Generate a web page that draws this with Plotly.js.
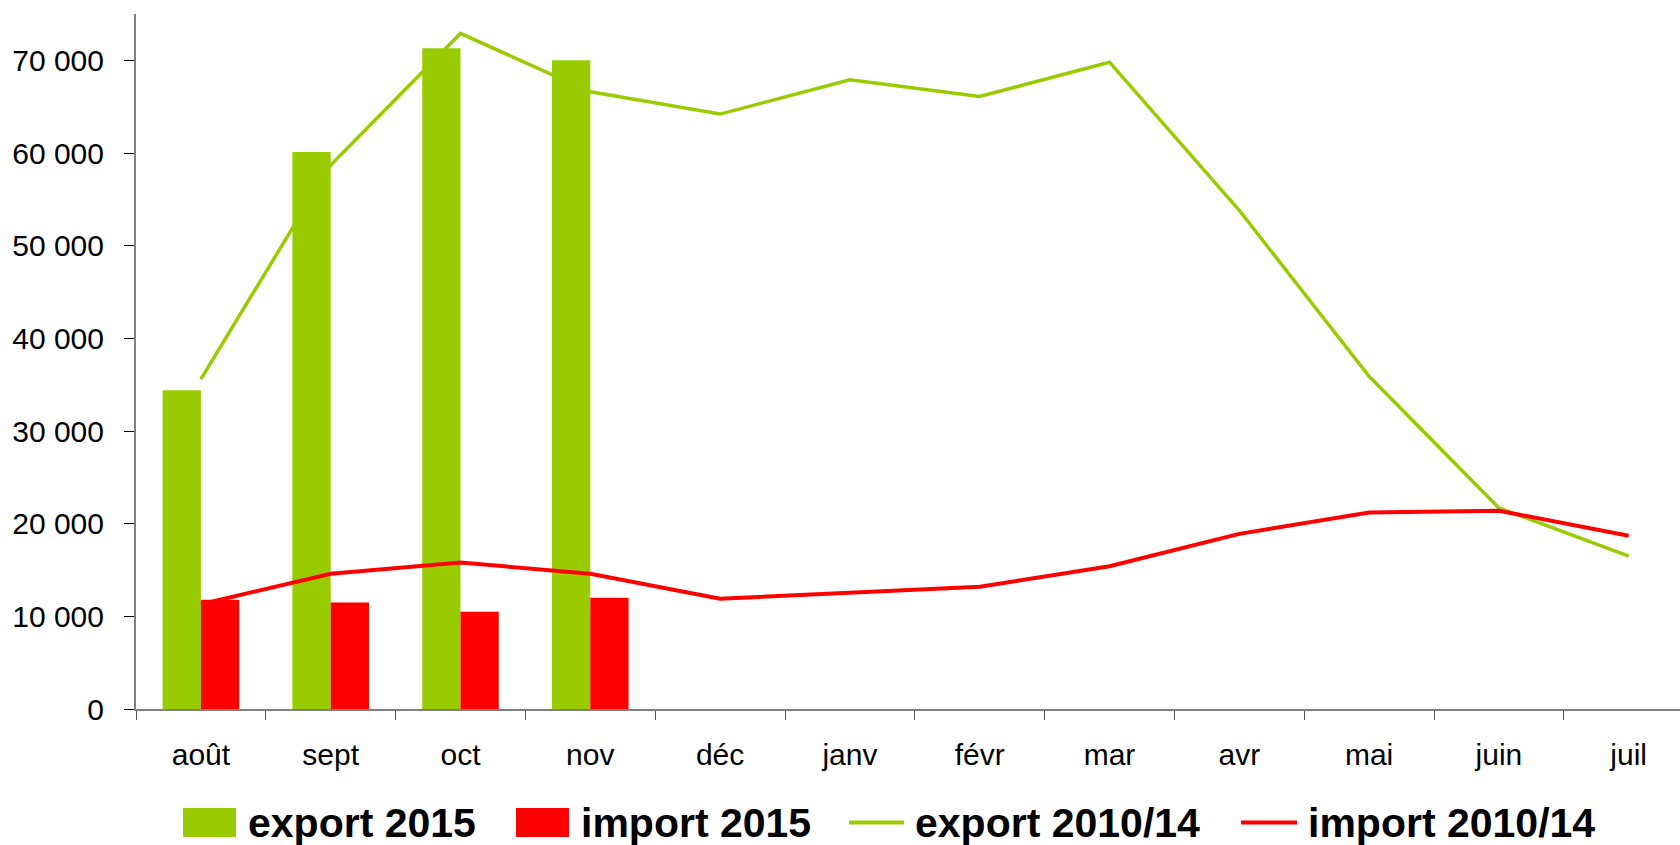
<!DOCTYPE html>
<html>
<head>
<meta charset="utf-8">
<script src="https://cdn.plot.ly/plotly-3.0.1.min.js"></script>
<style>
  html, body { margin: 0; padding: 0; background: #fff; }
  #chart { width: 1680px; height: 845px; }
</style>
</head>
<body>
<div id="chart"></div>
<script>
// ---- data ----
const months = ['août', 'sept', 'oct', 'nov', 'déc', 'janv', 'févr', 'mar', 'avr', 'mai', 'juin', 'juil'];
const export2015 = [34400, 60100, 71300, 70000];
const import2015 = [11800, 11500, 10500, 12000];
const export201014 = [35600, 58700, 72900, 66600, 64200, 67900, 66100, 69800, 53800, 35900, 21700, 16500];
const import201014 = [11300, 14600, 15800, 14600, 11900, 12500, 13200, 15400, 18900, 21200, 21400, 18700];
const seriesNames = ['export 2015', 'import 2015', 'export 2010/14', 'import 2010/14'];
const yTicks = [0, 10000, 20000, 30000, 40000, 50000, 60000, 70000];

// ---- styles ----
const GREEN = '#99CC00';
const RED = '#FF0000';
const FONT = 'Liberation Sans, Arial, sans-serif';

const W = 1680, H = 845;
const M = { l: 136, r: 0, t: 14, b: 136 };
const PW = W - M.l - M.r, PH = H - M.t - M.b;
const catW = 129.8;
const xEnd = -0.5 + PW / catW;

const px2x = px => (px - M.l) / PW;
const py2y = py => (M.t + PH - py) / PH;

const traces = [
  { type: 'bar', name: seriesNames[0], x: months.slice(0, export2015.length), y: export2015,
    marker: { color: GREEN, line: { width: 0 } } },
  { type: 'bar', name: seriesNames[1], x: months.slice(0, import2015.length), y: import2015,
    marker: { color: RED, line: { width: 0 } } },
  { type: 'scatter', mode: 'lines', name: seriesNames[2], x: months, y: export201014,
    line: { color: GREEN, width: 3.5 } },
  { type: 'scatter', mode: 'lines', name: seriesNames[3], x: months, y: import201014,
    line: { color: RED, width: 4 } }
];

// custom legend (large swatches like the original)
const legendY = 822.5;
const legendItems = [
  { kind: 'box', color: GREEN, sx0: 183, sx1: 236, tx: 246 },
  { kind: 'box', color: RED, sx0: 516, sx1: 569, tx: 579 },
  { kind: 'line', color: GREEN, sx0: 849, sx1: 904, tx: 913 },
  { kind: 'line', color: RED, sx0: 1241, sx1: 1297, tx: 1306 }
];
const shapes = [];
const annotations = [];
legendItems.forEach((it, i) => {
  if (it.kind === 'box') {
    shapes.push({ type: 'rect', xref: 'paper', yref: 'paper',
      x0: px2x(it.sx0), x1: px2x(it.sx1), y0: py2y(legendY + 14.5), y1: py2y(legendY - 14.5),
      fillcolor: it.color, line: { width: 0 } });
  } else {
    shapes.push({ type: 'line', xref: 'paper', yref: 'paper',
      x0: px2x(it.sx0), x1: px2x(it.sx1), y0: py2y(legendY), y1: py2y(legendY),
      line: { color: it.color, width: 4 } });
  }
  annotations.push({ xref: 'paper', yref: 'paper', x: px2x(it.tx), y: py2y(legendY),
    xanchor: 'left', yanchor: 'middle', showarrow: false,
    text: '<b>' + seriesNames[i] + '</b>',
    font: { family: FONT, size: 41, color: '#000' } });
});

const layout = {
  width: W, height: H,
  margin: M,
  paper_bgcolor: '#fff', plot_bgcolor: '#fff',
  separators: ', ',
  showlegend: false,
  barmode: 'group',
  bargap: 0.41,
  bargroupgap: 0,
  font: { family: FONT, size: 30, color: '#000' },
  xaxis: {
    type: 'category',
    range: [-0.5, xEnd],
    autorange: false,
    showgrid: false,
    zeroline: false,
    showline: true, linecolor: '#808080', linewidth: 2,
    ticks: 'outside', ticklen: 9, tickcolor: '#555', tickwidth: 1,
    tickson: 'boundaries',
    ticklabelstandoff: 18,
    tickfont: { family: FONT, size: 30, color: '#000' },
    fixedrange: true
  },
  yaxis: {
    range: [0, 75000],
    autorange: false,
    tickvals: yTicks,
    tickformat: ',d',
    showgrid: false,
    zeroline: false,
    showline: true, linecolor: '#808080', linewidth: 2,
    ticks: 'outside', ticklen: 10, tickcolor: '#000', tickwidth: 1,
    ticklabelstandoff: 14,
    tickfont: { family: FONT, size: 30, color: '#000' },
    fixedrange: true
  },
  shapes: shapes,
  annotations: annotations
};

Plotly.newPlot('chart', traces, layout, { staticPlot: true, displayModeBar: false });
</script>
</body>
</html>
